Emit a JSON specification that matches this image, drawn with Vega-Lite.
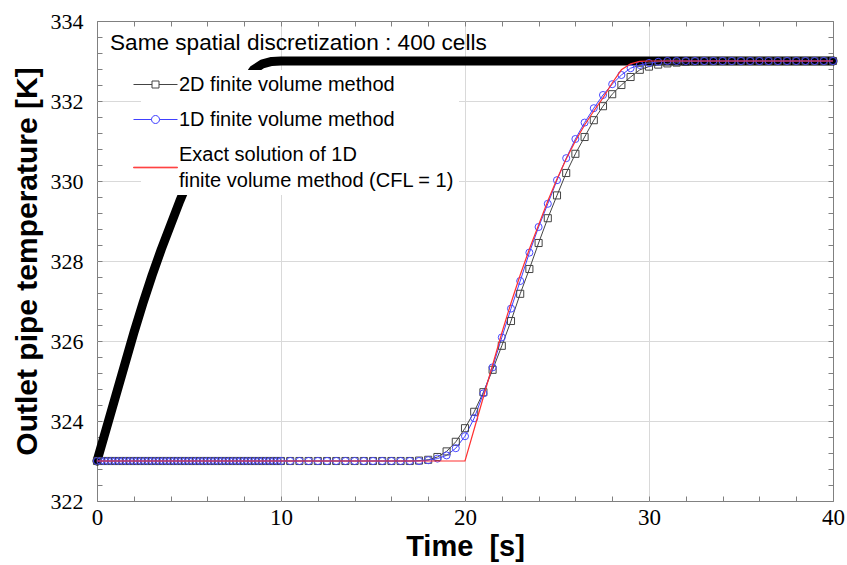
{
  "$schema": "https://vega.github.io/schema/vega-lite/v6.json",
  "width": 736,
  "height": 480,
  "autosize": {"type": "none"},
  "padding": {"left": 97, "top": 21, "right": 14, "bottom": 64},
  "background": "white",
  "config": {"view": {"stroke": "#808080", "strokeWidth": 1}, "font": "Liberation Sans"},
  "title": {"text": "Same spatial discretization : 400 cells", "anchor": "start", "frame": "group", "orient": "top", "offset": -45, "dx": 13, "fontSize": 22.6, "fontWeight": "normal", "font": "Liberation Sans", "color": "black"},
  "datasets": {
    "inlet": [
      {"t": 0, "T": 323.0}, {"t": 0.5, "T": 323.8}, {"t": 1, "T": 324.6}, {"t": 1.5, "T": 325.4},
      {"t": 2, "T": 326.2}, {"t": 2.5, "T": 326.95}, {"t": 3, "T": 327.65}, {"t": 3.5, "T": 328.3},
      {"t": 4, "T": 328.9}, {"t": 4.5, "T": 329.5}, {"t": 5, "T": 330.05}, {"t": 5.5, "T": 330.55},
      {"t": 6, "T": 331.0}, {"t": 6.5, "T": 331.4}, {"t": 7, "T": 331.75}, {"t": 7.5, "T": 332.08},
      {"t": 8, "T": 332.45}, {"t": 8.5, "T": 332.78}, {"t": 9, "T": 332.93}, {"t": 9.5, "T": 332.99},
      {"t": 10, "T": 333.0}, {"t": 40, "T": 333.0}
    ],
    "exact": [
      {"t": 0, "exact": 323.0}, {"t": 20, "exact": 323.0}, {"t": 20.5, "exact": 323.8}, {"t": 21, "exact": 324.6},
      {"t": 21.5, "exact": 325.4}, {"t": 22, "exact": 326.2}, {"t": 22.5, "exact": 326.95}, {"t": 23, "exact": 327.65},
      {"t": 23.5, "exact": 328.3}, {"t": 24, "exact": 328.9}, {"t": 24.5, "exact": 329.5}, {"t": 25, "exact": 330.05},
      {"t": 25.5, "exact": 330.55}, {"t": 26, "exact": 331.0}, {"t": 26.5, "exact": 331.4}, {"t": 27, "exact": 331.75},
      {"t": 27.5, "exact": 332.08}, {"t": 28, "exact": 332.45}, {"t": 28.5, "exact": 332.78}, {"t": 29, "exact": 332.93},
      {"t": 29.5, "exact": 332.99}, {"t": 30, "exact": 333.0}, {"t": 40, "exact": 333.0}
    ],
    "fvm": [
      {"t": 0, "fvm2d": 323, "fvm1d": 323}, {"t": 0.2, "fvm2d": 323, "fvm1d": 323}, {"t": 0.4, "fvm2d": 323, "fvm1d": 323},
      {"t": 0.6, "fvm2d": 323, "fvm1d": 323}, {"t": 0.8, "fvm2d": 323, "fvm1d": 323}, {"t": 1.0, "fvm2d": 323, "fvm1d": 323},
      {"t": 1.2, "fvm2d": 323, "fvm1d": 323}, {"t": 1.4, "fvm2d": 323, "fvm1d": 323}, {"t": 1.6, "fvm2d": 323, "fvm1d": 323},
      {"t": 1.8, "fvm2d": 323, "fvm1d": 323}, {"t": 2.0, "fvm2d": 323, "fvm1d": 323}, {"t": 2.2, "fvm2d": 323, "fvm1d": 323},
      {"t": 2.4, "fvm2d": 323, "fvm1d": 323}, {"t": 2.6, "fvm2d": 323, "fvm1d": 323}, {"t": 2.8, "fvm2d": 323, "fvm1d": 323},
      {"t": 3.0, "fvm2d": 323, "fvm1d": 323}, {"t": 3.2, "fvm2d": 323, "fvm1d": 323}, {"t": 3.4, "fvm2d": 323, "fvm1d": 323},
      {"t": 3.6, "fvm2d": 323, "fvm1d": 323}, {"t": 3.8, "fvm2d": 323, "fvm1d": 323}, {"t": 4.0, "fvm2d": 323, "fvm1d": 323},
      {"t": 4.2, "fvm2d": 323, "fvm1d": 323}, {"t": 4.4, "fvm2d": 323, "fvm1d": 323}, {"t": 4.6, "fvm2d": 323, "fvm1d": 323},
      {"t": 4.8, "fvm2d": 323, "fvm1d": 323}, {"t": 5.0, "fvm2d": 323, "fvm1d": 323}, {"t": 5.2, "fvm2d": 323, "fvm1d": 323},
      {"t": 5.4, "fvm2d": 323, "fvm1d": 323}, {"t": 5.6, "fvm2d": 323, "fvm1d": 323}, {"t": 5.8, "fvm2d": 323, "fvm1d": 323},
      {"t": 6.0, "fvm2d": 323, "fvm1d": 323}, {"t": 6.2, "fvm2d": 323, "fvm1d": 323}, {"t": 6.4, "fvm2d": 323, "fvm1d": 323},
      {"t": 6.6, "fvm2d": 323, "fvm1d": 323}, {"t": 6.8, "fvm2d": 323, "fvm1d": 323}, {"t": 7.0, "fvm2d": 323, "fvm1d": 323},
      {"t": 7.2, "fvm2d": 323, "fvm1d": 323}, {"t": 7.4, "fvm2d": 323, "fvm1d": 323}, {"t": 7.6, "fvm2d": 323, "fvm1d": 323},
      {"t": 7.8, "fvm2d": 323, "fvm1d": 323}, {"t": 8.0, "fvm2d": 323, "fvm1d": 323}, {"t": 8.2, "fvm2d": 323, "fvm1d": 323},
      {"t": 8.4, "fvm2d": 323, "fvm1d": 323}, {"t": 8.6, "fvm2d": 323, "fvm1d": 323}, {"t": 8.8, "fvm2d": 323, "fvm1d": 323},
      {"t": 9.0, "fvm2d": 323, "fvm1d": 323}, {"t": 9.2, "fvm2d": 323, "fvm1d": 323}, {"t": 9.4, "fvm2d": 323, "fvm1d": 323},
      {"t": 9.6, "fvm2d": 323, "fvm1d": 323}, {"t": 9.8, "fvm2d": 323, "fvm1d": 323},
      {"t": 10.0, "fvm2d": 323, "fvm1d": 323}, {"t": 10.5, "fvm2d": 323, "fvm1d": 323}, {"t": 11.0, "fvm2d": 323, "fvm1d": 323},
      {"t": 11.5, "fvm2d": 323, "fvm1d": 323}, {"t": 12.0, "fvm2d": 323, "fvm1d": 323}, {"t": 12.5, "fvm2d": 323, "fvm1d": 323},
      {"t": 13.0, "fvm2d": 323, "fvm1d": 323}, {"t": 13.5, "fvm2d": 323, "fvm1d": 323}, {"t": 14.0, "fvm2d": 323, "fvm1d": 323},
      {"t": 14.5, "fvm2d": 323, "fvm1d": 323}, {"t": 15.0, "fvm2d": 323, "fvm1d": 323}, {"t": 15.5, "fvm2d": 323, "fvm1d": 323},
      {"t": 16.0, "fvm2d": 323, "fvm1d": 323}, {"t": 16.5, "fvm2d": 323, "fvm1d": 323}, {"t": 17.0, "fvm2d": 323, "fvm1d": 323},
      {"t": 17.5, "fvm2d": 323.01, "fvm1d": 323}, {"t": 18.0, "fvm2d": 323.03, "fvm1d": 323.02}, {"t": 18.5, "fvm2d": 323.1, "fvm1d": 323.06},
      {"t": 19.0, "fvm2d": 323.24, "fvm1d": 323.14}, {"t": 19.5, "fvm2d": 323.48, "fvm1d": 323.32}, {"t": 20.0, "fvm2d": 323.82, "fvm1d": 323.62},
      {"t": 20.5, "fvm2d": 324.23, "fvm1d": 324.07}, {"t": 21.0, "fvm2d": 324.72, "fvm1d": 324.69}, {"t": 21.5, "fvm2d": 325.28, "fvm1d": 325.34},
      {"t": 22.0, "fvm2d": 325.88, "fvm1d": 326.09}, {"t": 22.5, "fvm2d": 326.5, "fvm1d": 326.81}, {"t": 23.0, "fvm2d": 327.18, "fvm1d": 327.5},
      {"t": 23.5, "fvm2d": 327.8, "fvm1d": 328.21}, {"t": 24.0, "fvm2d": 328.45, "fvm1d": 328.85}, {"t": 24.5, "fvm2d": 329.07, "fvm1d": 329.43},
      {"t": 25.0, "fvm2d": 329.64, "fvm1d": 330.02}, {"t": 25.5, "fvm2d": 330.2, "fvm1d": 330.57}, {"t": 26.0, "fvm2d": 330.68, "fvm1d": 331.05},
      {"t": 26.5, "fvm2d": 331.1, "fvm1d": 331.46}, {"t": 27.0, "fvm2d": 331.52, "fvm1d": 331.82}, {"t": 27.5, "fvm2d": 331.87, "fvm1d": 332.15},
      {"t": 28.0, "fvm2d": 332.17, "fvm1d": 332.42}, {"t": 28.5, "fvm2d": 332.4, "fvm1d": 332.65}, {"t": 29.0, "fvm2d": 332.6, "fvm1d": 332.82},
      {"t": 29.5, "fvm2d": 332.78, "fvm1d": 332.9}, {"t": 30.0, "fvm2d": 332.86, "fvm1d": 332.95}, {"t": 30.5, "fvm2d": 332.91, "fvm1d": 332.98},
      {"t": 31.0, "fvm2d": 332.94, "fvm1d": 333.0}, {"t": 31.5, "fvm2d": 332.96, "fvm1d": 333.0}, {"t": 32.0, "fvm2d": 332.98, "fvm1d": 333.0},
      {"t": 32.5, "fvm2d": 332.99, "fvm1d": 333.0}, {"t": 33.0, "fvm2d": 333.0, "fvm1d": 333.0}, {"t": 33.5, "fvm2d": 333.0, "fvm1d": 333.0},
      {"t": 34.0, "fvm2d": 333.0, "fvm1d": 333.0}, {"t": 34.5, "fvm2d": 333.0, "fvm1d": 333.0}, {"t": 35.0, "fvm2d": 333.0, "fvm1d": 333.0},
      {"t": 35.5, "fvm2d": 333.0, "fvm1d": 333.0}, {"t": 36.0, "fvm2d": 333.0, "fvm1d": 333.0}, {"t": 36.5, "fvm2d": 333.0, "fvm1d": 333.0},
      {"t": 37.0, "fvm2d": 333.0, "fvm1d": 333.0}, {"t": 37.5, "fvm2d": 333.0, "fvm1d": 333.0}, {"t": 38.0, "fvm2d": 333.0, "fvm1d": 333.0},
      {"t": 38.5, "fvm2d": 333.0, "fvm1d": 333.0}, {"t": 39.0, "fvm2d": 333.0, "fvm1d": 333.0}, {"t": 39.5, "fvm2d": 333.0, "fvm1d": 333.0},
      {"t": 40.0, "fvm2d": 333.0, "fvm1d": 333.0}
    ]
  },
  "resolve": {"axis": {"x": "independent", "y": "independent"}},
  "layer": [
    {
      "data": {"name": "inlet"},
      "mark": {"type": "line", "color": "black", "strokeWidth": 9, "strokeCap": "round", "strokeJoin": "round"},
      "encoding": {
        "x": {"field": "t", "type": "quantitative", "scale": {"domain": [0, 40], "nice": false, "zero": false},
          "axis": {"orient": "bottom", "values": [0, 10, 20, 30, 40], "ticks": false, "domain": false, "grid": true,
            "gridColor": "#d9d9d9", "gridWidth": 1,
            "gridOpacity": {"condition": {"test": "datum.value > 0 && datum.value < 40", "value": 1}, "value": 0},
            "labelFont": "Liberation Sans Narrow", "labelFontSize": 23, "labelColor": "black", "labelPadding": 5, "labelFlush": false,
            "title": "Time\u00a0 [s]", "titleFont": "Liberation Sans", "titleFontSize": 29, "titleFontWeight": "bold", "titleColor": "black", "titlePadding": 3}},
        "y": {"field": "T", "type": "quantitative", "scale": {"domain": [322, 334], "nice": false, "zero": false},
          "axis": {"orient": "left", "values": [322, 324, 326, 328, 330, 332, 334], "ticks": false, "domain": false, "grid": true,
            "gridColor": "#d9d9d9", "gridWidth": 1,
            "gridOpacity": {"condition": {"test": "datum.value > 322 && datum.value < 334", "value": 1}, "value": 0},
            "labelFont": "Liberation Sans Narrow", "labelFontSize": 22, "labelColor": "black", "labelPadding": 14, "labelFlush": false,
            "title": "Outlet pipe temperature [K]", "titleFont": "Liberation Sans", "titleFontSize": 30, "titleFontWeight": "bold", "titleColor": "black", "titlePadding": 8}}
      }
    },
    {
      "data": {"name": "fvm"},
      "transform": [{"fold": ["fvm2d", "fvm1d"], "as": ["series", "T"]}],
      "mark": {"type": "line", "strokeWidth": 1},
      "encoding": {
        "x": {"field": "t", "type": "quantitative", "scale": {"domain": [0, 40], "nice": false, "zero": false},
          "axis": {"orient": "bottom", "values": [0, 2, 4, 6, 8, 10, 12, 14, 16, 18, 20, 22, 24, 26, 28, 30, 32, 34, 36, 38, 40],
            "labels": false, "grid": false, "domain": false, "ticks": true, "tickSize": -5, "tickColor": "#808080", "title": null}},
        "y": {"field": "T", "type": "quantitative", "scale": {"domain": [322, 334], "nice": false, "zero": false},
          "axis": {"orient": "left", "values": [322, 322.4, 322.8, 323.2, 323.6, 324, 324.4, 324.8, 325.2, 325.6, 326, 326.4, 326.8, 327.2, 327.6, 328, 328.4, 328.8, 329.2, 329.6, 330, 330.4, 330.8, 331.2, 331.6, 332, 332.4, 332.8, 333.2, 333.6, 334],
            "labels": false, "grid": false, "domain": false, "ticks": true, "tickSize": -5, "tickColor": "#808080", "title": null}},
        "color": {"field": "series", "type": "nominal",
          "scale": {"domain": ["fvm2d", "fvm1d", "exact"], "range": ["#444444", "#4040ff", "#ff3030"]},
          "legend": {"orient": "none", "legendX": 44, "legendY": 49, "title": null, "fillColor": "white", "strokeColor": null, "padding": 4,
            "labelFont": "Liberation Sans", "labelFontSize": 20, "labelColor": "black", "labelLimit": 0, "labelOffset": 13,
            "symbolSize": 400, "symbolStrokeWidth": 1, "rowPadding": 14,
            "labelExpr": "datum.value === 'fvm2d' ? '2D finite volume method' : datum.value === 'fvm1d' ? '1D finite volume method' : ['Exact solution of 1D', 'finite volume method (CFL = 1)']",
            "encoding": {
              "labels": {
                "lineHeight": {"value": 26},
                "dy": {"value": {"expr": "datum.index === 2 ? -13 : 0"}}},
              "symbols": {
                "shape": {"value": {"expr": "datum.index === 0 ? 'M-2.2,0H-0.35M0.35,0H2.2M-0.35,-0.35H0.35V0.35H-0.35Z' : datum.index === 1 ? 'M0.4,0A0.4,0.4,0,1,1,-0.4,0A0.4,0.4,0,1,1,0.4,0M-2.2,0H-0.4M0.4,0H2.2' : 'M-2.2,-0.03H2.2V0.03H-2.2Z'"}},
                "fill": {"value": "white"},
                "fillOpacity": {"value": 1}}}}}
      }
    },
    {
      "data": {"name": "fvm"},
      "transform": [{"fold": ["fvm2d", "fvm1d"], "as": ["series", "T"]}],
      "mark": {"type": "point", "filled": false, "size": 50, "strokeWidth": 1, "opacity": 1},
      "encoding": {
        "x": {"field": "t", "type": "quantitative", "scale": {"domain": [0, 40], "nice": false, "zero": false}, "axis": null},
        "y": {"field": "T", "type": "quantitative", "scale": {"domain": [322, 334], "nice": false, "zero": false}, "axis": null},
        "stroke": {"field": "series", "type": "nominal", "scale": {"domain": ["fvm2d", "fvm1d"], "range": ["#444444", "#4a4aff"]}, "legend": null},
        "shape": {"field": "series", "type": "nominal", "scale": {"domain": ["fvm2d", "fvm1d"], "range": ["square", "circle"]}, "legend": null}
      }
    },
    {
      "data": {"name": "exact"},
      "transform": [{"fold": ["exact"], "as": ["series", "T"]}],
      "mark": {"type": "line", "strokeWidth": 1.2},
      "encoding": {
        "x": {"field": "t", "type": "quantitative", "scale": {"domain": [0, 40], "nice": false, "zero": false},
          "axis": {"orient": "top", "values": [0, 2, 4, 6, 8, 10, 12, 14, 16, 18, 20, 22, 24, 26, 28, 30, 32, 34, 36, 38, 40],
            "labels": false, "grid": false, "domain": false, "ticks": true, "tickSize": -5, "tickColor": "#808080", "title": null}},
        "y": {"field": "T", "type": "quantitative", "scale": {"domain": [322, 334], "nice": false, "zero": false},
          "axis": {"orient": "right", "values": [322, 322.4, 322.8, 323.2, 323.6, 324, 324.4, 324.8, 325.2, 325.6, 326, 326.4, 326.8, 327.2, 327.6, 328, 328.4, 328.8, 329.2, 329.6, 330, 330.4, 330.8, 331.2, 331.6, 332, 332.4, 332.8, 333.2, 333.6, 334],
            "labels": false, "grid": false, "domain": false, "ticks": true, "tickSize": -5, "tickColor": "#808080", "title": null}},
        "color": {"field": "series", "type": "nominal"}
      }
    }
  ]
}
